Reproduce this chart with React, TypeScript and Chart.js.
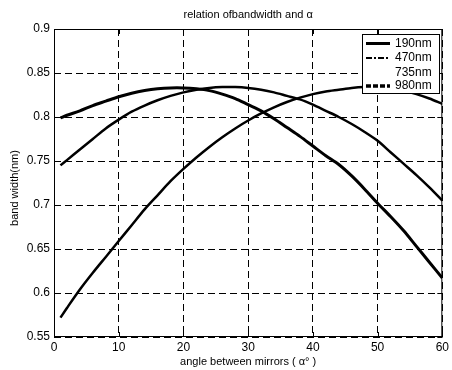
import React, { useEffect, useRef } from "react";
import { Chart, registerables } from "chart.js";

Chart.register(...registerables);

const angles = [1, 2, 4, 6, 8, 10, 12, 14, 16, 18, 20, 22, 24, 26, 28, 30, 32, 34, 36, 38, 40, 42, 44, 46, 48, 50, 52, 54, 56, 58, 60];
const bw190 = [0.799, 0.802, 0.807, 0.813, 0.818, 0.823, 0.827, 0.830, 0.832, 0.833, 0.833, 0.832, 0.830, 0.826, 0.821, 0.814, 0.807, 0.798, 0.788, 0.778, 0.767, 0.756, 0.746, 0.733, 0.718, 0.702, 0.687, 0.671, 0.653, 0.635, 0.617];
const bw470 = [0.745, 0.751, 0.763, 0.775, 0.787, 0.797, 0.806, 0.813, 0.819, 0.824, 0.828, 0.831, 0.833, 0.834, 0.834, 0.833, 0.831, 0.828, 0.824, 0.820, 0.814, 0.807, 0.800, 0.792, 0.783, 0.773, 0.760, 0.747, 0.734, 0.720, 0.705];
const bw735: number[] = [];
const bw980 = [0.572, 0.583, 0.604, 0.623, 0.641, 0.659, 0.677, 0.695, 0.711, 0.727, 0.741, 0.754, 0.766, 0.777, 0.787, 0.796, 0.804, 0.811, 0.817, 0.822, 0.826, 0.829, 0.831, 0.833, 0.834, 0.834, 0.833, 0.830, 0.826, 0.821, 0.815];

const seriesNames = ["190nm", "470nm", "735nm", "980nm"];
const xTicks = [0, 10, 20, 30, 40, 50, 60];
const yTicks = [0.55, 0.6, 0.65, 0.7, 0.75, 0.8, 0.85, 0.9];

const titleText = "relation ofbandwidth and α";
const xTitle = "angle between mirrors ( α° )";
const yTitle = "band width(nm)";

const FONT = "Liberation Sans, Arial, sans-serif";

const legendStyles = [
  { width: 3, dash: [] as number[] },
  { width: 2, dash: [6, 2, 2, 2] },
  { width: 0, dash: [] as number[] },
  { width: 3.5, dash: [5, 2] },
];

const decor = {
  id: "decor",
  afterDraw(chart: any) {
    const { ctx, chartArea, scales } = chart;
    const { left, right, top, bottom } = chartArea;
    const xs = scales.x;
    const ys = scales.y;
    ctx.save();
    ctx.strokeStyle = "#000";
    ctx.fillStyle = "#000";
    ctx.lineWidth = 1;
    ctx.setLineDash([]);
    ctx.strokeRect(left + 0.5, top + 0.5, right - left - 1, bottom - top - 1);
    ctx.beginPath();
    for (const v of xTicks) {
      const px = Math.round(xs.getPixelForValue(v)) + 0.5;
      ctx.moveTo(px, bottom);
      ctx.lineTo(px, bottom - 5);
      ctx.moveTo(px, top);
      ctx.lineTo(px, top + 5);
    }
    for (const v of yTicks) {
      const py = Math.round(ys.getPixelForValue(v)) + 0.5;
      ctx.moveTo(left, py);
      ctx.lineTo(left + 5, py);
      ctx.moveTo(right, py);
      ctx.lineTo(right - 5, py);
    }
    ctx.stroke();

    // titles
    ctx.font = `11px ${FONT}`;
    ctx.textAlign = "center";
    ctx.textBaseline = "middle";
    ctx.fillText(titleText, (left + right) / 2, 15);
    ctx.fillText(xTitle, (left + right) / 2, 362);
    ctx.save();
    ctx.translate(15, 188);
    ctx.rotate(-Math.PI / 2);
    ctx.fillText(yTitle, 0, 0);
    ctx.restore();

    // legend
    const bx = 362, by = 34, bw = 78, bh = 60;
    ctx.fillStyle = "#fff";
    ctx.fillRect(bx, by, bw, bh);
    ctx.strokeStyle = "#000";
    ctx.lineWidth = 1;
    ctx.strokeRect(bx + 0.5, by + 0.5, bw - 1, bh - 1);
    const rows = [43.5, 58, 72.5, 86];
    ctx.font = `12px ${FONT}`;
    ctx.textAlign = "left";
    ctx.fillStyle = "#000";
    seriesNames.forEach((name, i) => {
      const st = legendStyles[i];
      if (st.width > 0) {
        ctx.save();
        ctx.lineWidth = st.width;
        ctx.setLineDash(st.dash);
        ctx.beginPath();
        ctx.moveTo(366, rows[i]);
        ctx.lineTo(390, rows[i]);
        ctx.stroke();
        ctx.restore();
      }
      ctx.fillText(name, 395, rows[i]);
    });
    ctx.restore();
  },
};

export default function App() {
  const ref = useRef<HTMLCanvasElement | null>(null);
  useEffect(() => {
    document.body.style.margin = "0";
    const canvas = ref.current!;
    const mk = (vals: number[]) => vals.map((v, i) => ({ x: angles[i], y: v }));
    const chart = new Chart(canvas, {
      type: "line",
      data: {
        datasets: [
          { label: seriesNames[0], data: mk(bw190), borderColor: "#000", borderWidth: 3, pointRadius: 0, tension: 0.3, fill: false },
          { label: seriesNames[1], data: mk(bw470), borderColor: "#000", borderWidth: 2.5, pointRadius: 0, tension: 0.3, fill: false },
          { label: seriesNames[2], data: mk(bw735), borderColor: "#000", borderWidth: 1, pointRadius: 0, fill: false },
          { label: seriesNames[3], data: mk(bw980), borderColor: "#000", borderWidth: 2.5, pointRadius: 0, tension: 0.3, fill: false },
        ],
      },
      options: {
        responsive: false,
        animation: false,
        events: [],
        layout: { padding: { top: 29, right: 6, left: 0, bottom: 0 } },
        plugins: { legend: { display: false }, title: { display: false }, tooltip: { enabled: false } },
        scales: {
          x: {
            type: "linear",
            min: 0,
            max: 60,
            afterBuildTicks: (s: any) => { s.ticks = xTicks.map((v) => ({ value: v })); },
            afterFit: (s: any) => { s.height = 33; },
            ticks: { color: "#000", font: { family: FONT, size: 12 }, padding: 3, maxRotation: 0 },
            grid: { color: "#000", lineWidth: 1, drawTicks: false },
            border: { display: false, dash: [7, 4] },
          },
          y: {
            type: "linear",
            min: 0.55,
            max: 0.9,
            afterBuildTicks: (s: any) => { s.ticks = yTicks.map((v) => ({ value: v })); },
            afterFit: (s: any) => { s.width = 54; },
            ticks: { color: "#000", font: { family: FONT, size: 12 }, padding: 4, callback: (v: any) => String(Number(v)) },
            grid: { color: "#000", lineWidth: 1, drawTicks: false },
            border: { display: false, dash: [7, 4] },
          },
        },
      },
      plugins: [decor],
    });
    return () => chart.destroy();
  }, []);
  return <canvas ref={ref} width={452} height={370} style={{ display: "block" }} />;
}
